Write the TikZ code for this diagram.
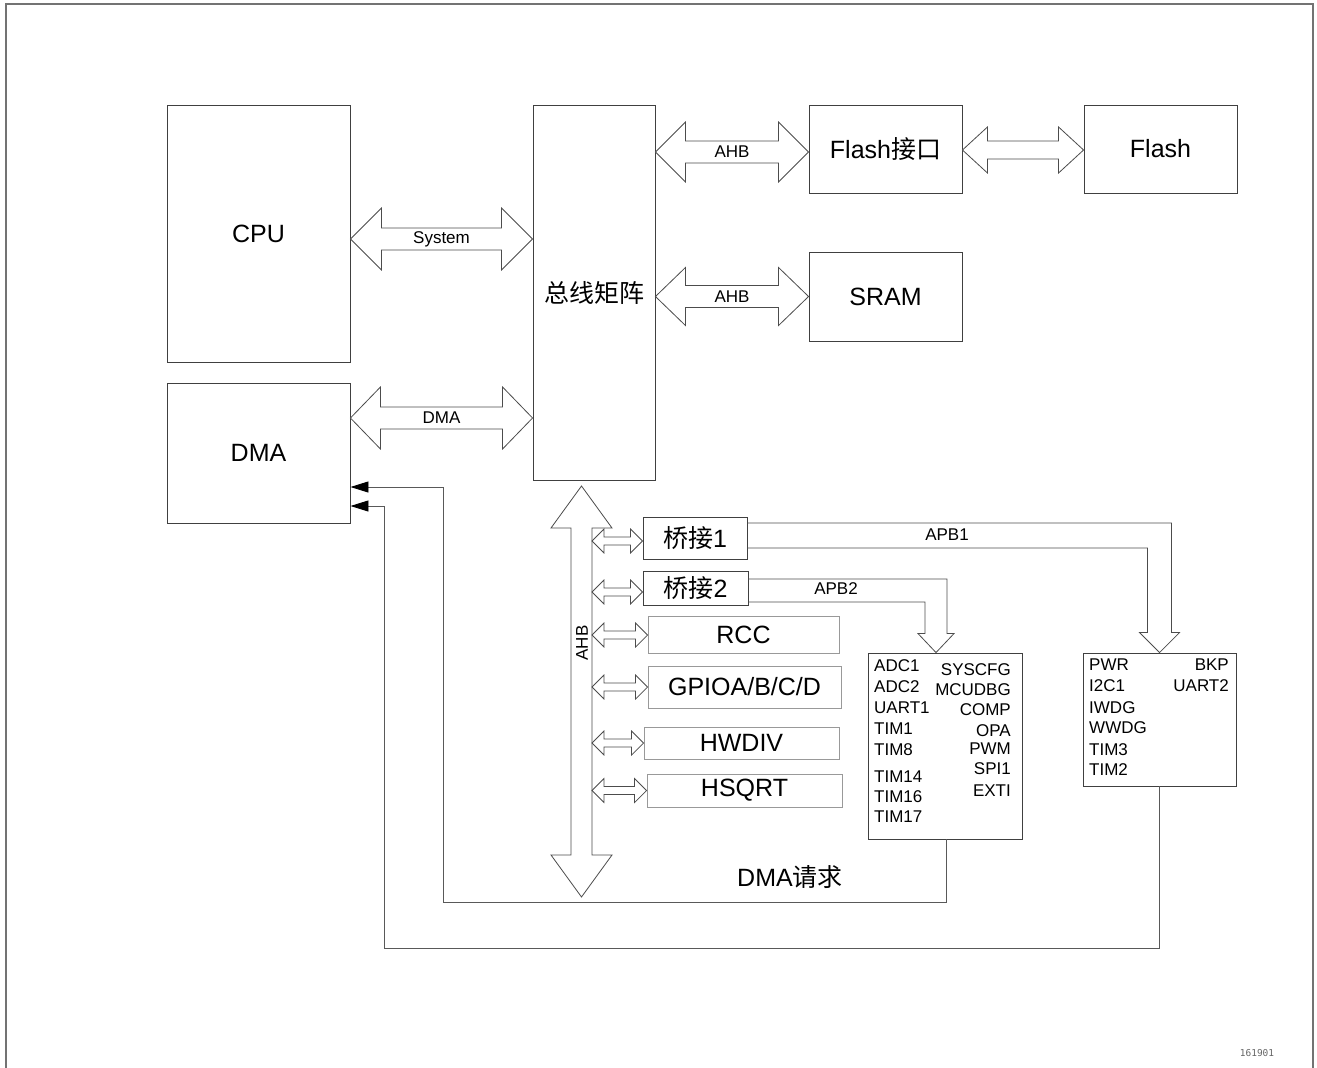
\documentclass[tikz,border=0pt]{standalone}
\usepackage{fontspec}
\setmainfont{Liberation Sans}
\newfontfamily\cjk{Noto Sans CJK SC}
\newfontfamily\codefont{DejaVu Sans Mono}
\usetikzlibrary{arrows.meta,calc}

\newcommand{\hbus}[5]{%
	\draw[busline] (#1) -- ($(#1)+(#5,-#4)$) -- ($(#1)+(#5,-#3)$) -- ($(#2)+(-#5,-#3)$) -- ($(#2)+(-#5,-#4)$) -- (#2)
		-- ($(#2)+(-#5,#4)$) -- ($(#2)+(-#5,#3)$) -- ($(#1)+(#5,#3)$) -- ($(#1)+(#5,#4)$) -- cycle;}
\newcommand{\vbus}[5]{%
	\draw[busline] (#1) -- ($(#1)+(#4,#5)$) -- ($(#1)+(#3,#5)$) -- ($(#2)+(#3,-#5)$) -- ($(#2)+(#4,-#5)$) -- (#2)
		-- ($(#2)+(-#4,-#5)$) -- ($(#2)+(-#3,-#5)$) -- ($(#1)+(-#3,#5)$) -- ($(#1)+(-#4,#5)$) -- cycle;}

\begin{document}
\begin{tikzpicture}[x=1pt, y=-1pt, >={Triangle[length=18pt, width=11pt, black]},
	box/.style={draw=black!75, line width=0.9pt, inner sep=0pt},
	pbox/.style={draw=black!40, line width=0.9pt, inner sep=0pt},
	big/.style={font=\fontsize{25}{30}\selectfont},
	small/.style={font=\fontsize{17}{20}\selectfont, inner sep=0pt},
	item/.style={font=\fontsize{17}{20}\selectfont, inner sep=0pt, text height=12.2pt, text depth=0pt},
	busline/.style={draw=black!70, line width=0.8pt, fill=white},
	req/.style={draw=black!65, line width=0.9pt},
	frame/.style={draw=black!55, line width=2pt}]
	\useasboundingbox (0,0) rectangle (1317,1068);
	\draw[frame] (5.5,1080) -- (5.5,4) -- (1312.5,4) -- (1312.5,1080);

	\node[box, minimum width=183pt, minimum height=257pt, big] (cpu) at (258.5,233.5) {CPU};
	\node[box, minimum width=183pt, minimum height=140pt, big] (dma) at (258.5,453) {DMA};
	\node[box, minimum width=122pt, minimum height=375pt, big] (bus) at (594,292.5) {\cjk 总线矩阵};
	\node[box, minimum width=153pt, minimum height=88pt, big] (flashif) at (885.5,149) {Flash{\cjk 接口}};
	\node[box, minimum width=153pt, minimum height=88pt, big] (flash) at (1160.5,149) {Flash};
	\node[box, minimum width=153pt, minimum height=89pt, big] (sram) at (885.5,296.5) {SRAM};
	\node[box, minimum width=104pt, minimum height=42pt, big] (bridge1) at (695,538) {{\cjk 桥接}1};
	\node[box, minimum width=105pt, minimum height=34pt, big] (bridge2) at (695.5,588) {{\cjk 桥接}2};
	\node[pbox, minimum width=191pt, minimum height=37pt, big] (rcc) at (743.5,634.5) {RCC};
	\node[pbox, minimum width=193pt, minimum height=42pt, big] (gpio) at (744.5,687) {GPIOA/B/C/D};
	\node[pbox, minimum width=195pt, minimum height=32pt, big] (hwdiv) at (741.5,743) {HWDIV};
	\node[pbox, minimum width=195pt, minimum height=33pt, big] (hsqrt) at (744.5,790.5) {HSQRT};
	\node[box, minimum width=154pt, minimum height=186pt] (apb2box) at (945,746) {};
	\node[box, minimum width=153pt, minimum height=133pt] (apb1box) at (1159.5,719.5) {};

	\foreach \t/\y in {ADC1/665, ADC2/686, UART1/707, TIM1/728, TIM8/749, TIM14/776, TIM16/796, TIM17/816}
		\node[item, anchor=west] (apb2-\t) at (874,\y) {\t};
	\foreach \t/\y in {SYSCFG/669, MCUDBG/689, COMP/709, OPA/730, PWM/748, SPI1/768, EXTI/790}
		\node[item, anchor=east] (apb2-\t) at (1011,\y) {\t};
	\foreach \t/\y in {PWR/664, I2C1/685, IWDG/707, WWDG/727, TIM3/749, TIM2/769}
		\node[item, anchor=west] (apb1-\t) at (1089,\y) {\t};
	\foreach \t/\y in {BKP/664, UART2/685}
		\node[item, anchor=east] (apb1-\t) at (1229,\y) {\t};

	\coordinate (sysL) at ($(cpu.east)+(0,5.5)$);
	\coordinate (sysR) at (sysL -| bus.west);
	\hbus{sysL}{sysR}{11}{31}{31}
	\node[small] (lsys) at ($(sysL)!0.5!(sysR)$) {System};

	\coordinate (dmaL) at ($(dma.east)+(0,-35)$);
	\coordinate (dmaR) at (dmaL -| bus.west);
	\hbus{dmaL}{dmaR}{11}{31}{30}
	\node[small] (ldma) at ($(dmaL)!0.5!(dmaR)$) {DMA};

	\coordinate (ahbR1) at ($(flashif.west)+(0,3)$);
	\coordinate (ahbL1) at (ahbR1 -| bus.east);
	\hbus{ahbL1}{ahbR1}{11}{30}{30}
	\node[small] (lahb1) at ($(ahbL1)!0.5!(ahbR1)$) {AHB};

	\coordinate (ahbR2) at (sram.west);
	\coordinate (ahbL2) at (ahbR2 -| bus.east);
	\hbus{ahbL2}{ahbR2}{11}{29}{30}
	\node[small] (lahb2) at ($(ahbL2)!0.5!(ahbR2)$) {AHB};

	\coordinate (flL) at ($(flashif.east)+(0,1)$);
	\coordinate (flR) at (flL -| flash.west);
	\hbus{flL}{flR}{9}{23}{25}

	\coordinate (ahbTop) at (581.5,486);
	\coordinate (ahbBot) at (581.5,897);
	\vbus{ahbTop}{ahbBot}{10.5}{30.5}{42}
	\node[small, rotate=90] (lahb) at (582,643) {AHB};

	\coordinate (ahbEdge) at (592,0);
	\foreach \n/\dy in {bridge1/3, bridge2/4, rcc/0.5, gpio/0, hwdiv/0, hsqrt/0} {
		\coordinate (\n-r) at ($(\n.west)+(0,\dy)$);
		\coordinate (\n-l) at (\n-r -| ahbEdge);
		\hbus{\n-l}{\n-r}{4}{12}{12}
	}

	\draw[busline, fill=none] ($(bridge1.east)+(0,-15)$) -| ($(apb1box.north)+(12,-20)$) -- ++(8,0) -- (apb1box.north)
		-- ++(-20,-20) -- ++(8,0) |- ($(bridge1.east)+(0,10)$);
	\node[small] (lapb1) at (947,535) {APB1};

	\coordinate (apb2tip) at ($(apb2box.north)+(-9,0)$);
	\draw[busline, fill=none] ($(bridge2.east)+(0,-9)$) -| ($(apb2tip)+(11,-19)$) -- ++(7,0) -- (apb2tip)
		-- ++(-18,-19) -- ++(7,0) |- ($(bridge2.east)+(0,14)$);
	\node[small] (lapb2) at (836,589) {APB2};

	\coordinate (reqA) at (443,902);
	\coordinate (reqB) at (384,948);
	\draw[req, ->] ($(apb2box.south)+(1,0)$) |- (reqA) |- ($(dma.east)+(0,34)$);
	\draw[req, ->] (apb1box.south) |- (reqB) |- ($(dma.east)+(0,53)$);
	\node[big] (lreq) at (790,877) {DMA{\cjk 请求}};

	\node[font=\codefont\fontsize{9.5}{11}\selectfont, text=black!60] (code) at (1257,1053) {161901};
\end{tikzpicture}
\end{document}
